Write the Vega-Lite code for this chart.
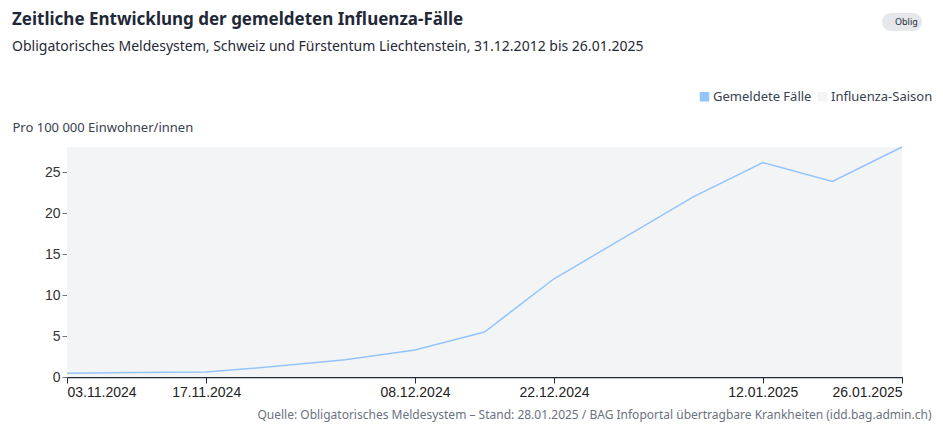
{
  "$schema": "https://vega.github.io/schema/vega-lite/v6.json",
  "width": 835,
  "height": 230,
  "padding": {"left": 12, "top": 11, "right": 12, "bottom": 10},
  "background": "white",
  "title": {
    "text": "Zeitliche Entwicklung der gemeldeten Influenza-Fälle",
    "subtitle": "Obligatorisches Meldesystem, Schweiz und Fürstentum Liechtenstein, 31.12.2012 bis 26.01.2025",
    "anchor": "start",
    "frame": "bounds",
    "font": "Noto Sans",
    "fontSize": 17,
    "fontWeight": "bold",
    "color": "#1f2937",
    "subtitleFont": "Noto Sans",
    "subtitleFontSize": 14,
    "subtitleColor": "#1f2937",
    "subtitlePadding": 11,
    "offset": -42
  },
  "config": {"view": {"stroke": null}},
  "datasets": {
    "cases": [
      {"date": "2024-11-03", "value": 0.45},
      {"date": "2024-11-10", "value": 0.55},
      {"date": "2024-11-17", "value": 0.6},
      {"date": "2024-11-24", "value": 1.3},
      {"date": "2024-12-01", "value": 2.1},
      {"date": "2024-12-08", "value": 3.3},
      {"date": "2024-12-15", "value": 5.5},
      {"date": "2024-12-22", "value": 12.0},
      {"date": "2024-12-29", "value": 17.0},
      {"date": "2025-01-05", "value": 22.0},
      {"date": "2025-01-12", "value": 26.2},
      {"date": "2025-01-19", "value": 23.9},
      {"date": "2025-01-26", "value": 28.1}
    ],
    "season": [
      {"start": "2024-11-03", "end": "2025-01-26", "label": "Influenza-Saison"}
    ],
    "badge": [
      {"label": "Oblig"}
    ]
  },
  "layer": [
    {
      "data": {"name": "season"},
      "mark": {"type": "rect", "clip": true},
      "encoding": {
        "x": {"field": "start", "type": "temporal"},
        "x2": {"field": "end"},
        "color": {"datum": "Influenza-Saison", "type": "nominal"}
      }
    },
    {
      "data": {"name": "cases"},
      "mark": {"type": "line", "strokeWidth": 1.5},
      "encoding": {
        "x": {
          "field": "date",
          "type": "temporal",
          "scale": {"type": "utc", "domain": [{"year": 2024, "month": 11, "date": 3, "utc": true}, {"year": 2025, "month": 1, "date": 26, "utc": true}]},
          "axis": {
            "values": [
              {"year": 2024, "month": 11, "date": 3, "utc": true},
              {"year": 2024, "month": 11, "date": 17, "utc": true},
              {"year": 2024, "month": 12, "date": 8, "utc": true},
              {"year": 2024, "month": 12, "date": 22, "utc": true},
              {"year": 2025, "month": 1, "date": 12, "utc": true},
              {"year": 2025, "month": 1, "date": 26, "utc": true}
            ],
            "format": "%d.%m.%Y",
            "labelFlush": true,
            "grid": false,
            "domainColor": "#1f2937",
            "domainWidth": 1.5,
            "tickColor": "#1f2937",
            "tickSize": 6,
            "labelFont": "Liberation Sans",
            "labelFontSize": 14,
            "labelColor": "#222222",
            "labelPadding": 2,
            "title": "Quelle: Obligatorisches Meldesystem – Stand: 28.01.2025 / BAG Infoportal übertragbare Krankheiten (idd.bag.admin.ch)",
            "titleX": 864,
            "titleY": 37,
            "titleAlign": "right",
            "titleBaseline": "middle",
            "titleFont": "Noto Sans",
            "titleFontSize": 12,
            "titleFontWeight": "normal",
            "titleColor": "#6b7280"
          }
        },
        "y": {
          "field": "value",
          "type": "quantitative",
          "scale": {"domain": [0, 28.1], "nice": false},
          "axis": {
            "title": "Pro 100 000 Einwohner/innen",
            "titleAngle": 0,
            "titleX": -55,
            "titleY": -20,
            "titleAlign": "left",
            "titleBaseline": "middle",
            "titleFont": "Noto Sans",
            "titleFontSize": 13,
            "titleFontWeight": "normal",
            "titleColor": "#374151",
            "values": [0, 5, 10, 15, 20, 25],
            "domain": false,
            "tickColor": "#6b7280",
            "tickSize": 5,
            "labelFont": "Liberation Sans",
            "labelFontSize": 14,
            "labelColor": "#333333",
            "labelPadding": 2,
            "grid": true,
            "gridColor": "#eceef1"
          }
        },
        "color": {
          "datum": "Gemeldete Fälle",
          "type": "nominal",
          "scale": {"domain": ["Gemeldete Fälle", "Influenza-Saison"], "range": ["#93c5fd", "#f3f4f6"]},
          "legend": {
            "orient": "none",
            "legendX": 631,
            "legendY": -57,
            "direction": "horizontal",
            "title": null,
            "symbolType": "square",
            "symbolSize": 64,
            "labelFont": "Noto Sans",
            "labelFontSize": 13,
            "labelColor": "#374151",
            "columnPadding": 3,
            "labelOffset": 2,
            "encode": {
              "symbols": {
                "update": {
                  "fill": {"scale": "color", "field": "value"},
                  "stroke": {"value": "transparent"},
                  "opacity": {"value": 1}
                }
              }
            }
          }
        }
      }
    },
    {
      "data": {"name": "badge"},
      "mark": {"type": "point", "opacity": 0},
      "encoding": {
        "shape": {
          "field": "label",
          "type": "nominal",
          "legend": {
            "orient": "none",
            "legendX": 815,
            "legendY": -134,
            "title": null,
            "fillColor": "#e5e7eb",
            "cornerRadius": 9,
            "padding": 4,
            "symbolSize": 0,
            "symbolOpacity": 0,
            "symbolStrokeWidth": 0,
            "labelOffset": 0,
            "labelFont": "Noto Sans",
            "labelFontSize": 9,
            "labelColor": "#1f2937"
          }
        }
      }
    }
  ]
}
